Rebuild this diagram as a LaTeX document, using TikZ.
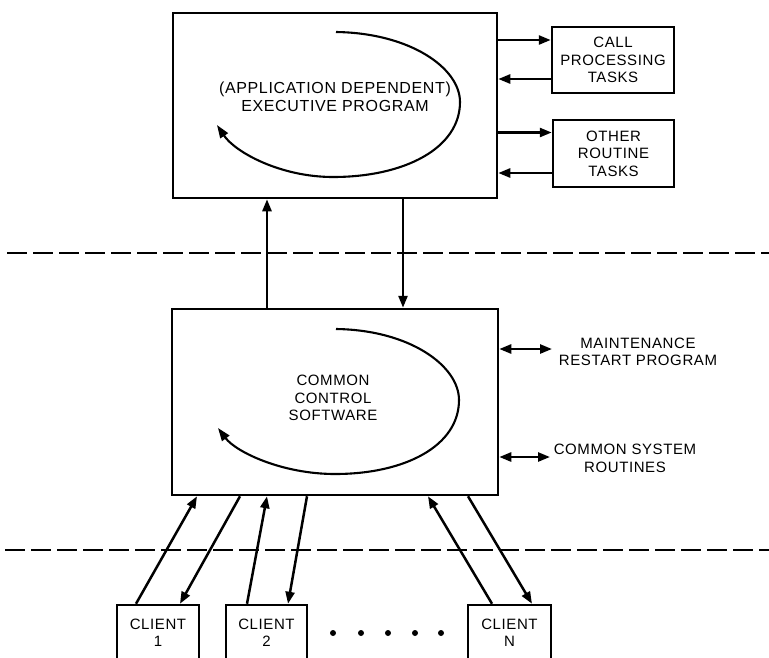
\documentclass[tikz,border=0pt]{standalone}
\usepackage{fontspec}
\setmainfont{Liberation Sans}[LetterSpace=4]
\usetikzlibrary{arrows.meta,calc}
\begin{document}
\begin{tikzpicture}[x=1pt,y=-1pt,
  lw/.style={line width=2.5pt},
  txt/.style={font=\fontsize{15}{17.4}\selectfont},
  box/.style={draw,lw,rectangle,inner sep=0pt,align=center,txt},
  label/.style={inner sep=0pt,align=center,txt},
  tip/.tip={Triangle[length=12pt,width=9pt]},
  arr/.style={lw,-tip},
  darr/.style={lw,tip-tip},
  curl/.style={line width=2.1pt,-{Triangle[length=13pt,width=9pt]}},
  level/.style={line width=2.5pt,dash pattern=on 20pt off 6pt},
]
\useasboundingbox (0,0) rectangle (769,657);

% main program blocks
\node[box,minimum width=324pt,minimum height=185pt] (exec) at (335,105.5) {};
\node[label,font=\fontsize{16}{18}\selectfont] (exectxt) at (335,97)
  {(APPLICATION DEPENDENT)\\EXECUTIVE PROGRAM};
\node[box,minimum width=326pt,minimum height=186pt] (ccs) at (335,402) {};
\node[label] (ccstxt) at (333,398) {COMMON\\CONTROL\\SOFTWARE};

% task blocks
\node[box,minimum width=122pt,minimum height=66pt] (call) at (613,60) {CALL\\PROCESSING\\TASKS};
\node[box,minimum width=121pt,minimum height=67pt] (other) at (613.5,153.5) {OTHER\\ROUTINE\\TASKS};

% side services
\node[label] (maint) at (638,352) {MAINTENANCE\\RESTART PROGRAM};
\node[label] (csr) at (625,458.5) {COMMON SYSTEM\\ROUTINES};

% clients
\node[box,minimum width=82pt,minimum height=56pt] (c1) at (158,633) {CLIENT\\1};
\node[box,minimum width=81pt,minimum height=56pt] (c2) at (266.5,633) {CLIENT\\2};
\node[box,minimum width=83pt,minimum height=56pt] (cn) at (509.5,633) {CLIENT\\N};
\foreach \i/\x in {1/333,2/361,3/388,4/415,5/441}
  \fill (\x,633) circle[radius=3pt] coordinate (dot\i);

% level separators
\draw[level] (7,253) -- (769,253);
\draw[level] (5,550) -- (769,550);

% processing loops
\draw[curl] (336,32) .. controls (410,33) and (460,68) .. (460,102)
  .. controls (460,148) and (405,177) .. (333,177)
  .. controls (280,177) and (235,152) .. (217,125);
\draw[curl] (336,329) .. controls (410,330) and (459,366) .. (459,400)
  .. controls (459,446) and (405,474) .. (335,474)
  .. controls (282,474) and (236,452) .. (218,428);

% arrow attachment points on the task blocks and side services
\coordinate (callin)   at ([yshift=20pt]call.west);
\coordinate (callout)  at ([yshift=-19pt]call.west);
\coordinate (otherin)  at ([yshift=21pt]other.west);
\coordinate (otherout) at ([yshift=-19.5pt]other.west);
\coordinate (maintend) at (552,349);
\coordinate (csrend)   at (550,457);

% executive <-> tasks
\draw[arr] (exec.east |- callin) -- (callin);
\draw[arr] (callout) -- (exec.east |- callout);
\draw[arr] (exec.east |- otherin) -- (otherin);
\draw[arr] (otherout) -- (exec.east |- otherout);

% executive <-> common control
\draw[arr] ([xshift=-68pt]ccs.north) -- ([xshift=-68pt]exec.south);
\draw[arr] ([xshift=68pt]exec.south) -- ([xshift=68pt]ccs.north);

% common control <-> side services
\draw[darr] (ccs.east |- maintend) -- (maintend);
\draw[darr] (ccs.east |- csrend) -- (csrend);

% common control <-> clients
\draw[arr] ([xshift=-22pt]c1.north) -- ([xshift=-138pt]ccs.south);
\draw[arr] ([xshift=-95pt]ccs.south) -- ([xshift=22pt]c1.north);
\draw[arr] ([xshift=-19.5pt]c2.north) -- ([xshift=-68pt]ccs.south);
\draw[arr] ([xshift=-28pt]ccs.south) -- ([xshift=21.5pt]c2.north);
\draw[arr] ([xshift=-17.5pt]cn.north) -- ([xshift=93pt]ccs.south);
\draw[arr] ([xshift=133pt]ccs.south) -- ([xshift=22.5pt]cn.north);
\end{tikzpicture}
\end{document}
